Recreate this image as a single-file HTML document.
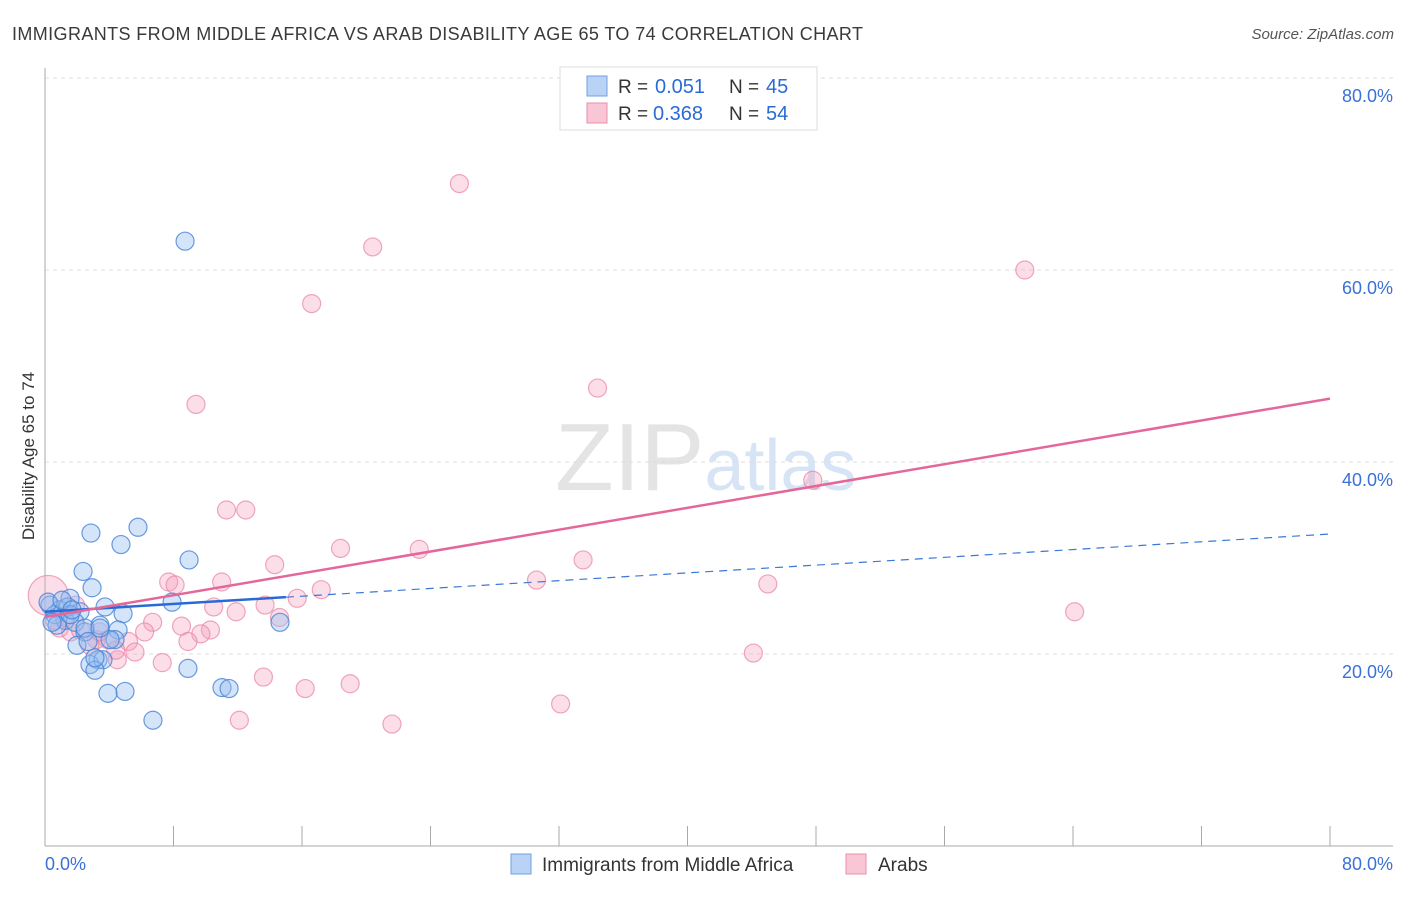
<!DOCTYPE html>
<html><head><meta charset="utf-8"><style>
body{margin:0;background:#fff;font-family:"Liberation Sans",sans-serif}
svg text{font-family:"Liberation Sans",sans-serif}
</style></head><body>
<svg id="chart" width="1406" height="892" xmlns="http://www.w3.org/2000/svg">
<text x="12" y="40" font-size="18" fill="#3a3a3a" textLength="851" lengthAdjust="spacing">IMMIGRANTS FROM MIDDLE AFRICA VS ARAB DISABILITY AGE 65 TO 74 CORRELATION CHART</text>
<text x="1394" y="39" font-size="15" fill="#555" font-style="italic" text-anchor="end">Source: ZipAtlas.com</text>
<text x="555" y="490" font-size="96" fill="#e4e4e4" font-family="Liberation Serif">ZIP<tspan fill="#d6e4f5" font-family="Liberation Sans" font-size="72">atlas</tspan></text>
<g id="grid"></g><g id="axes"></g><g id="marks"></g>
<text transform="translate(34,456) rotate(-90)" font-size="17" fill="#333" text-anchor="middle">Disability Age 65 to 74</text>
<text x="45" y="870" font-size="18" fill="#3b70d6">0.0%</text>
<text x="1393" y="870" font-size="18" fill="#3b70d6" text-anchor="end">80.0%</text>
<g>
<rect x="560" y="67" width="257" height="63" fill="#fff" stroke="#ddd"/>
<rect x="587" y="76" width="20" height="20" fill="#b8d3f5" stroke="#6f9fe0"/>
<text x="618" y="93" font-size="19" fill="#333">R = </text><text x="655" y="93" font-size="20" fill="#2b6bd6">0.051</text>
<text x="729" y="93" font-size="19" fill="#333">N = </text><text x="766" y="93" font-size="20" fill="#2b6bd6">45</text>
<rect x="587" y="103" width="20" height="20" fill="#f9c6d6" stroke="#e98fae"/>
<text x="618" y="120" font-size="19" fill="#333">R = </text><text x="653" y="120" font-size="20" fill="#2b6bd6">0.368</text>
<text x="729" y="120" font-size="19" fill="#333">N = </text><text x="766" y="120" font-size="20" fill="#2b6bd6">54</text>
</g>
<g>
<rect x="511" y="854" width="20" height="20" fill="#b8d3f5" stroke="#6f9fe0"/>
<text x="542" y="871" font-size="19" fill="#333">Immigrants from Middle Africa</text>
<rect x="846" y="854" width="20" height="20" fill="#f9c6d6" stroke="#e98fae"/>
<text x="878" y="871" font-size="19" fill="#333">Arabs</text>
</g>
</svg>
<script>
const yTicks=[20,40,60,80];
const yTickLabels=["20.0%","40.0%","60.0%","80.0%"];
const xTicks=[0,8,16,24,32,40,48,56,64,72,80];
const blueX=[8.72,5.79,2.86,4.73,8.97,2.37,2.93,7.91,1.56,3.74,0.31,0.93,2.18,4.86,1.25,1.87,3.42,4.55,2.49,4.36,1.99,3.30,2.80,3.61,3.11,8.90,14.63,4.98,3.92,11.02,11.46,6.72,0.62,0.19,1.43,0.75,2.49,4.05,1.56,1.06,0.44,3.11,1.68,3.42,2.68];
const blueY=[63.0,33.2,32.6,31.4,29.8,28.6,26.9,25.4,25.8,24.9,25.1,24.6,24.4,24.2,23.5,23.3,23.0,22.5,22.3,21.5,20.9,19.4,18.9,19.4,18.3,18.5,23.3,16.1,15.9,16.5,16.4,13.1,24.1,25.4,24.9,23.0,22.7,21.5,24.1,25.6,23.3,19.6,24.6,22.7,21.3];
const pinkX=[25.8,20.4,61.0,16.6,34.4,9.4,47.8,11.3,12.5,18.4,23.3,33.5,14.3,7.7,8.1,11.0,30.6,45.0,17.2,15.7,13.7,10.5,64.1,11.9,6.7,8.5,14.6,10.3,6.2,9.7,8.9,5.2,3.9,3.2,5.6,4.5,7.3,44.1,13.6,19.0,16.2,32.1,12.1,21.6,0.2,0.9,1.6,2.2,0.6,2.8,3.4,4.4,1.2,1.9];
const pinkY=[69.0,62.4,60.0,56.5,47.7,46.0,38.1,35.0,35.0,31.0,30.9,29.8,29.3,27.5,27.2,27.5,27.7,27.3,26.7,25.8,25.1,24.9,24.4,24.4,23.3,22.9,23.8,22.5,22.3,22.1,21.3,21.3,21.5,21.5,20.2,19.4,19.1,20.1,17.6,16.9,16.4,14.8,13.1,12.7,26.1,22.7,22.3,22.5,23.5,20.9,22.3,20.4,23.8,25.1];
const pinkTrend=[23.85,46.6];
const blueTrend=[24.4,32.5];
const blueSolidEnd=15;
const NS="http://www.w3.org/2000/svg";
const sx=v=>45+v/80*1285;
const sy=v=>846-v*9.6;
function mk(tag,attrs,parent){const e=document.createElementNS(NS,tag);for(const k in attrs)e.setAttribute(k,attrs[k]);document.getElementById(parent).appendChild(e);return e;}
yTicks.forEach((t,i)=>{
 const l=mk('line',{x1:45,x2:1393,y1:sy(t),y2:sy(t),stroke:'#ddd','stroke-dasharray':'4,4'},'grid');
 
 
 const tx=mk('text',{x:1393,y:sy(t)+24,'font-size':18,fill:'#3b70d6','text-anchor':'end'},'grid');
 tx.textContent=yTickLabels[i];
 
 
});
const ax=mk('line',{x1:45,x2:45,y1:68,y2:846,stroke:'#aaa'},'axes');


const bx=mk('line',{x1:45,x2:1393,y1:846,y2:846,stroke:'#aaa'},'axes');


xTicks.forEach(t=>{
 const l=mk('line',{x1:sx(t),x2:sx(t),y1:826,y2:846,stroke:'#aaa'},'axes');
 
 
});
pinkX.forEach((x,i)=>{
 const c=mk('circle',{cx:sx(x),cy:sy(pinkY[i]),r:i===44?20:9,fill:'rgba(244,160,188,0.35)',stroke:'rgba(232,130,165,0.7)','stroke-width':1.2},'marks');
 
 
});
blueX.forEach((x,i)=>{
 const c=mk('circle',{cx:sx(x),cy:sy(blueY[i]),r:9,fill:'rgba(150,190,240,0.4)',stroke:'rgba(70,130,215,0.8)','stroke-width':1.2},'marks');
 
 
});
const bt=v=>blueTrend[0]+(blueTrend[1]-blueTrend[0])*v/80;
const bd=mk('line',{x1:sx(blueSolidEnd),y1:sy(bt(blueSolidEnd)),x2:sx(80),y2:sy(bt(80)),stroke:'#3b78d8','stroke-width':1.2,'stroke-dasharray':'8,6'},'marks');


const bs=mk('line',{x1:sx(0),y1:sy(bt(0)),x2:sx(blueSolidEnd),y2:sy(bt(blueSolidEnd)),stroke:'#2a6ad6','stroke-width':2.5},'marks');


const pt=mk('line',{x1:sx(0),y1:sy(pinkTrend[0]),x2:sx(80),y2:sy(pinkTrend[1]),stroke:'#e5679a','stroke-width':2.5},'marks');


</script>
</body></html>
